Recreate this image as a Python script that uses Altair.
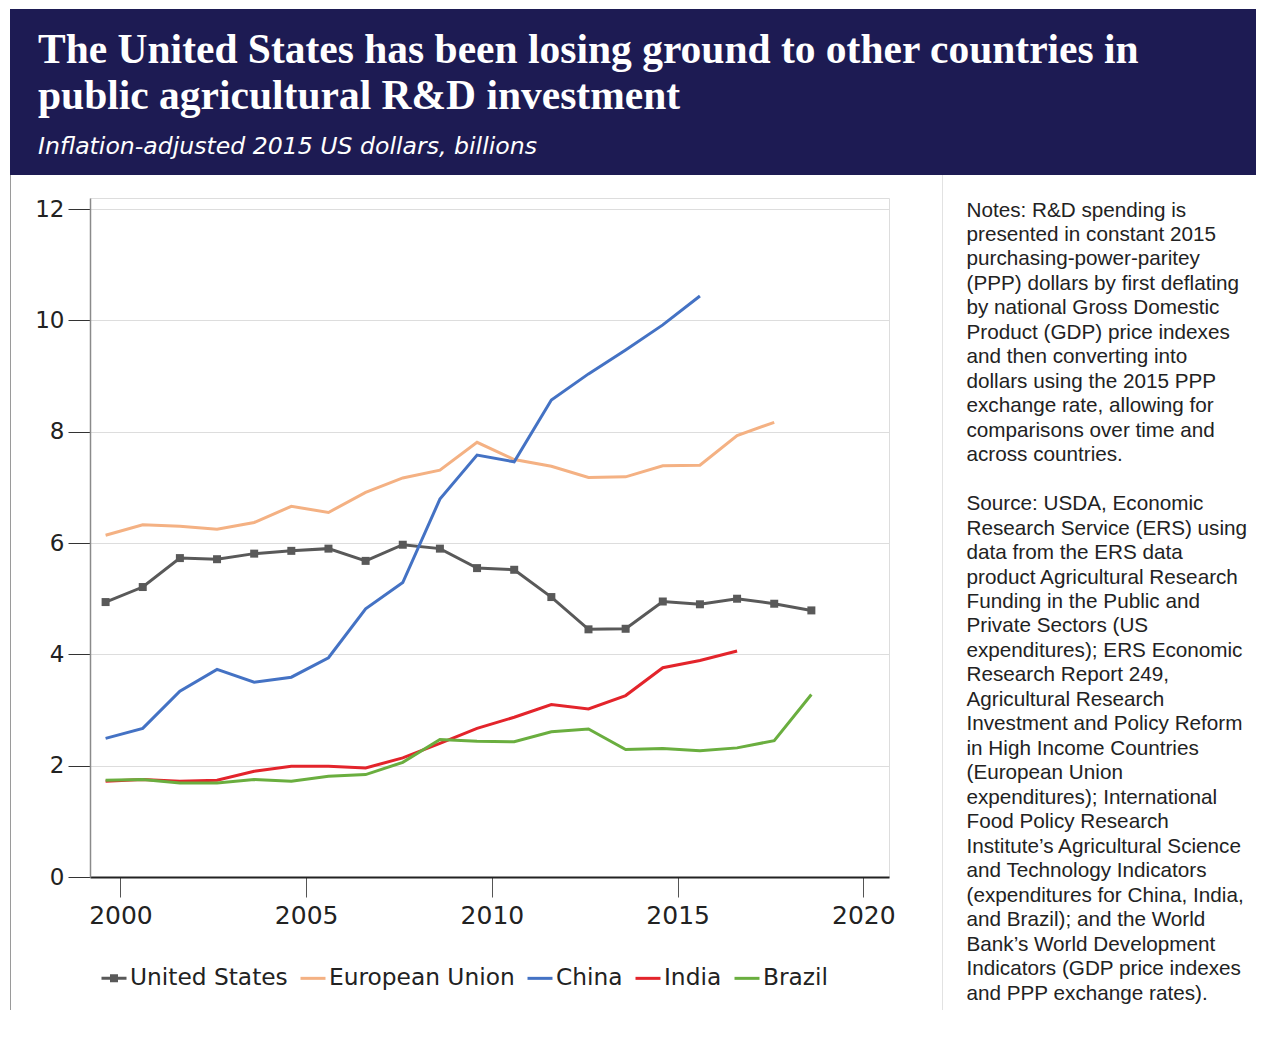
import altair as alt
import pandas as pd

# ---------------- data ----------------
YEARS = list(range(2000, 2020))
COUNTRIES = ["United States", "European Union", "China", "India", "Brazil"]
US = [4.94, 5.21, 5.73, 5.71, 5.81, 5.86, 5.90, 5.68, 5.97, 5.90, 5.55, 5.52, 5.03, 4.45, 4.46, 4.95, 4.90, 5.00, 4.91, 4.79]
EU = [6.14, 6.33, 6.30, 6.25, 6.37, 6.66, 6.55, 6.91, 7.17, 7.31, 7.81, 7.50, 7.38, 7.18, 7.19, 7.39, 7.40, 7.93, 8.17]
CHINA = [2.49, 2.67, 3.34, 3.73, 3.50, 3.59, 3.94, 4.82, 5.29, 6.79, 7.58, 7.46, 8.57, 9.04, 9.47, 9.92, 10.44]
INDIA = [1.72, 1.75, 1.72, 1.74, 1.90, 1.99, 1.99, 1.96, 2.14, 2.40, 2.67, 2.87, 3.10, 3.02, 3.26, 3.76, 3.89, 4.06]
BRAZIL = [1.74, 1.75, 1.69, 1.69, 1.75, 1.72, 1.81, 1.84, 2.06, 2.47, 2.44, 2.43, 2.61, 2.66, 2.29, 2.31, 2.27, 2.32, 2.45, 3.28]
SERIES = [US, EU, CHINA, INDIA, BRAZIL]
COLORS = ["#595959", "#f4b183", "#4472c4", "#e3242b", "#6aae3f"]
LEGEND_SHAPES = ["M-1,0H1M-0.2,-0.2H0.2V0.2H-0.2Z", "M-1,0H1", "M-1,0H1", "M-1,0H1", "M-1,0H1"]

X_TICKS = [2000, 2005, 2010, 2015, 2020]
Y_TICKS = [0, 2, 4, 6, 8, 10, 12]

TITLE = ["The United States has been losing ground to other countries in",
         "public agricultural R&D investment"]
SUBTITLE = "Inflation-adjusted 2015 US dollars, billions"
NOTES_1 = [
    "Notes: R&D spending is",
    "presented in constant 2015",
    "purchasing-power-paritey",
    "(PPP) dollars by first deflating",
    "by national Gross Domestic",
    "Product (GDP) price indexes",
    "and then converting into",
    "dollars using the 2015 PPP",
    "exchange rate, allowing for",
    "comparisons over time and",
    "across countries.",
]
NOTES_2 = [
    "Source: USDA, Economic",
    "Research Service (ERS) using",
    "data from the ERS data",
    "product Agricultural Research",
    "Funding in the Public and",
    "Private Sectors (US",
    "expenditures); ERS Economic",
    "Research Report 249,",
    "Agricultural Research",
    "Investment and Policy Reform",
    "in High Income Countries",
    "(European Union",
    "expenditures); International",
    "Food Policy Research",
    "Institute\u2019s Agricultural Science",
    "and Technology Indicators",
    "(expenditures for China, India,",
    "and Brazil); and the World",
    "Bank\u2019s World Development",
    "Indicators (GDP price indexes",
    "and PPP exchange rates).",
]

rows = []
for name, vals in zip(COUNTRIES, SERIES):
    for y, v in zip(YEARS, vals):
        rows.append({"country": name, "year": y, "value": v})
df = pd.DataFrame(rows)
one = pd.DataFrame({"d": [0]})

NAVY = "#1d1b53"
W, H = 799, 679
LH = 24.47

xscale = alt.Scale(domain=[1999.18, 2020.69], nice=False, zero=False)
yscale = alt.Scale(domain=[0, 12.2], nice=False, zero=True)

xaxis = alt.Axis(values=X_TICKS, format="d", title=None, grid=False,
                 tickSize=20, tickColor="#555555", tickWidth=1,
                 domainColor="#222222", domainWidth=2,
                 labelFont="DejaVu Sans", labelFontSize=25, labelColor="#222222",
                 labelPadding=6, labelFlush=False)
yaxis = alt.Axis(values=Y_TICKS, title=None, grid=True, gridColor="#dddddd", gridWidth=1,
                 tickSize=22, tickColor="#333333", tickWidth=1,
                 domainColor="#8a8a8a", domainWidth=1.5,
                 labelFont="DejaVu Sans", labelFontSize=23, labelColor="#222222",
                 labelPadding=4)

legend = alt.Legend(
    title=None, orient="none", direction="horizontal", legendX=10, legendY=766,
    symbolSize=625, symbolStrokeWidth=3, symbolOpacity=1,
    labelFont="DejaVu Sans", labelFontSize=23.3, labelColor="#222222",
    labelOffset=2, columnPadding=6, padding=0, labelLimit=400,
)

color_scale = alt.Scale(domain=COUNTRIES, range=COLORS)
shape_scale = alt.Scale(domain=COUNTRIES, range=LEGEND_SHAPES)

base = alt.Chart(df).transform_calculate(xpos="datum.year - 0.4")

lines = base.mark_line(strokeWidth=3).encode(
    x=alt.X("xpos:Q", scale=xscale, axis=xaxis),
    y=alt.Y("value:Q", scale=yscale, axis=yaxis),
    color=alt.Color("country:N", scale=color_scale, legend=legend, sort=COUNTRIES),
)

legend_pts = base.mark_point(opacity=0, filled=False, strokeWidth=3).encode(
    x=alt.X("xpos:Q", scale=xscale),
    y=alt.Y("value:Q", scale=yscale),
    color=alt.Color("country:N", scale=color_scale, legend=legend, sort=COUNTRIES),
    shape=alt.Shape("country:N", scale=shape_scale, legend=legend, sort=COUNTRIES),
)

points = base.transform_filter(alt.datum.country == COUNTRIES[0]).mark_square(
    size=64, color=COLORS[0], opacity=1
).encode(x=alt.X("xpos:Q", scale=xscale), y=alt.Y("value:Q", scale=yscale))

header = alt.Chart(one).mark_rect(color=NAVY).encode(
    x=alt.value(-80), x2=alt.value(1166), y=alt.value(-189), y2=alt.value(-23))

title = alt.Chart(one).mark_text(
    text=TITLE, font="Liberation Serif", fontSize=41.5, fontWeight="bold", color="white",
    align="left", baseline="alphabetic", lineHeight=46.5
).encode(x=alt.value(-52), y=alt.value(-135.5))

subtitle = alt.Chart(one).mark_text(
    text=SUBTITLE, font="DejaVu Sans", fontSize=23.6, fontStyle="italic", fontWeight=200,
    color="white", align="left", baseline="alphabetic"
).encode(x=alt.value(-52), y=alt.value(-44))

left_border = alt.Chart(one).mark_rule(color="#9a9a9a", strokeWidth=1).encode(
    x=alt.value(-79.5), y=alt.value(-23), y2=alt.value(812))

divider = alt.Chart(one).mark_rule(color="#e2e2e2", strokeWidth=1).encode(
    x=alt.value(852.5), y=alt.value(-23), y2=alt.value(812))

notes_1 = alt.Chart(one).mark_text(
    text=NOTES_1, font="Liberation Sans", fontSize=20.7, color="#222222",
    align="left", baseline="alphabetic", lineHeight=LH
).encode(x=alt.value(876.5), y=alt.value(18.5))

notes_2 = alt.Chart(one).mark_text(
    text=NOTES_2, font="Liberation Sans", fontSize=20.7, color="#222222",
    align="left", baseline="alphabetic", lineHeight=LH
).encode(x=alt.value(876.5), y=alt.value(18.5 + 12 * LH))

chart = alt.layer(
    header, title, subtitle, left_border, divider, notes_1, notes_2, lines, legend_pts, points
).properties(
    width=W, height=H,
    padding={"left": 2, "top": 1, "right": 0, "bottom": 0},
).configure_view(strokeWidth=0).configure(background="white")

chart.save("out.html", embed_options={"renderer": "svg", "actions": False})
